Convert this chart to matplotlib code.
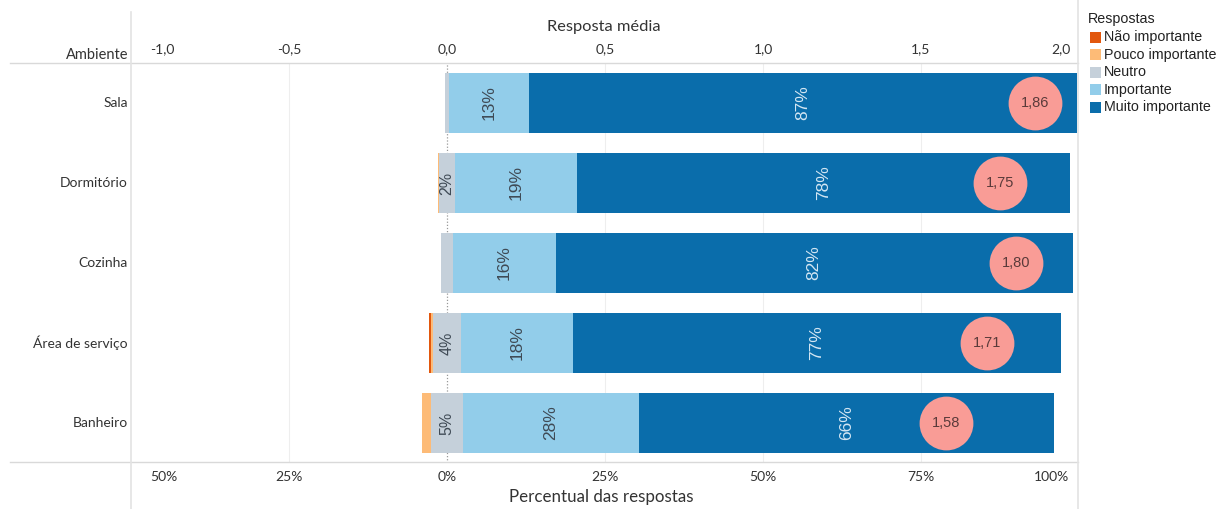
import numpy as np
import matplotlib.pyplot as plt
import matplotlib.transforms as mtransforms
from matplotlib.lines import Line2D
from matplotlib.patches import Rectangle

# ── DATA (% of answers per room) ─────────────────────────────────────────────
ambientes = ["Sala", "Dormitório", "Cozinha", "Área de serviço", "Banheiro"]
respostas = ["Não importante", "Pouco importante", "Neutro", "Importante", "Muito importante"]
nao_importante   = [0.0, 0.0, 0.0, 0.4, 0.0]
pouco_importante = [0.0, 0.3, 0.0, 0.3, 1.4]
neutro           = [0.6, 2.4, 2.0, 4.4, 5.1]
importante       = [12.7, 19.4, 16.2, 17.8, 27.8]
muito_importante = [86.7, 77.9, 81.8, 77.1, 65.7]
resposta_media   = [1.86, 1.75, 1.80, 1.71, 1.58]

pct_ticks   = [-50, -25, 0, 25, 50, 75, 100]
media_ticks = [-1.0, -0.5, 0.0, 0.5, 1.0, 1.5, 2.0]

# ── PALETTE ──────────────────────────────────────────────────────────────────
C_NAO    = "#e2570d"
C_POUCO  = "#fdbb77"
C_NEUTRO = "#c5d0da"
C_IMP    = "#92cdea"
C_MUITO  = "#0a6dab"
C_MEDIA  = "#f99c96"
TXT      = "#333333"
LINE     = "#d9d9d9"
colors = [C_NAO, C_POUCO, C_NEUTRO, C_IMP, C_MUITO]

AX_FONT = "Lato"
LEG_FONT = "Liberation Sans"

W, H = 1225, 509
fig = plt.figure(figsize=(W / 100, H / 100), dpi=100, facecolor="white")


def fx(px):
    return px / W


def fy(py):
    return 1 - py / H


ax = fig.add_axes([fx(131), fy(463), fx(1079) - fx(131), fy(63) - fy(463)])
ax.set_xlim(-50, 100)
ax.set_ylim(4.5, -0.5)

y = np.arange(len(ambientes))
nao = np.array(nao_importante)
pouco = np.array(pouco_importante)
neu = np.array(neutro)
imp = np.array(importante)
muito = np.array(muito_importante)

# diverging layout: neutral split around zero
start = -(nao + pouco + neu / 2)
segments = [nao, pouco, neu, imp, muito]
left = start.copy()
lefts = []
for seg, col in zip(segments, colors):
    ax.barh(y, seg, left=left, height=0.74, color=col, zorder=2, linewidth=0)
    lefts.append(left.copy())
    left = left + seg

# segment labels
LBL = dict(rotation=90, ha="center", va="center", family=LEG_FONT, zorder=3)
for i in y:
    if neu[i] >= 2.2:
        ax.text(lefts[2][i] + neu[i] / 2, i, f"{neu[i]:.0f}%", color="#3f4a55",
                fontsize=11.5, **LBL)
    ax.text(lefts[3][i] + imp[i] / 2, i, f"{imp[i]:.0f}%", color="#3f4a55",
            fontsize=12.5, **LBL)
    ax.text(lefts[4][i] + muito[i] / 2, i, f"{muito[i]:.0f}%", color="#d3e6f3",
            fontsize=12.5, **LBL)

# mean answer circles (1 unit of mean = 50 % on the shared axis)
media = np.array(resposta_media)
ax.scatter(media * 50, y, s=1500, color=C_MEDIA, zorder=4, linewidths=0)
for i in y:
    ax.text(media[i] * 50, i, f"{media[i]:.2f}".replace(".", ","),
            ha="center", va="center", fontsize=10.5, color="#5a3a3a",
            family=LEG_FONT, zorder=5)

# grid + zero line
for g in [-25, 25, 50, 75]:
    ax.axvline(g, color="#eeeeee", linewidth=0.8, zorder=0)
ax.axvline(0, color="#999999", linewidth=0.9, linestyle=(0, (1, 1.5)), zorder=1)

for s in ax.spines.values():
    s.set_visible(False)
ax.set_yticks([])

# bottom axis: percentage
ax.set_xticks(pct_ticks)
ax.set_xticklabels([f"{abs(t)}%" for t in pct_ticks])
ax.tick_params(axis="x", length=0, pad=6, labelsize=10, labelcolor=TXT)
for lab in ax.get_xticklabels():
    lab.set_family(AX_FONT)

# top axis: mean answer
sec = ax.secondary_xaxis("top", functions=(lambda v: v / 50, lambda v: v * 50))
sec.set_xticks(media_ticks)
sec.set_xticklabels([f"{t:.1f}".replace(".", ",") for t in media_ticks])
sec.tick_params(axis="x", length=0, pad=6, labelsize=10, labelcolor=TXT)
for s in sec.spines.values():
    s.set_visible(False)
for lab in sec.get_xticklabels():
    lab.set_family(AX_FONT)

# pull the edge labels inside the plot area
def shift(lab, dx, ha):
    lab.set_ha(ha)
    lab.set_transform(lab.get_transform() +
                      mtransforms.ScaledTranslation(dx / 100, 0, fig.dpi_scale_trans))

bl = ax.get_xticklabels()
tl = sec.get_xticklabels()
shift(bl[0], 19, "left")
shift(bl[-1], -10, "right")
shift(tl[0], 19, "left")
shift(tl[-1], -8, "right")

# titles and row headers
fig.text(fx(604), fy(27), "Resposta média", ha="center", va="center",
         fontsize=11.8, color=TXT, family=AX_FONT)
fig.text(fx(601), fy(497), "Percentual das respostas", ha="center", va="center",
         fontsize=12.2, color=TXT, family=AX_FONT)
fig.text(fx(128), fy(55), "Ambiente", ha="right", va="center",
         fontsize=10.5, color=TXT, family=AX_FONT)
for i, name in enumerate(ambientes):
    fig.text(fx(128), fy(103 + 80 * i), name, ha="right", va="center",
             fontsize=10, color=TXT, family=AX_FONT)

# frame lines
fig.add_artist(Line2D([fx(10), fx(1078)], [fy(63), fy(63)], color=LINE, lw=1))
fig.add_artist(Line2D([fx(10), fx(1078)], [fy(462), fy(462)], color=LINE, lw=1))
fig.add_artist(Line2D([fx(131), fx(131)], [fy(12), fy(509)], color="#e3e3e3", lw=1.2))
fig.add_artist(Line2D([fx(1078), fx(1078)], [fy(0), fy(509)], color="#e3e3e3", lw=1.2))

# legend
fig.text(fx(1088), fy(19), "Respostas", ha="left", va="center",
         fontsize=10.3, color="#222222", family=LEG_FONT)
for k, (lab, col) in enumerate(zip(respostas, colors)):
    yc = 37 + 17.6 * k
    fig.add_artist(Rectangle((fx(1090), fy(yc + 5.5)), fx(11), 11 / H,
                             transform=fig.transFigure, color=col, lw=0))
    fig.text(fx(1104), fy(yc), lab, ha="left", va="center",
             fontsize=10.3, color="#222222", family=LEG_FONT)

fig.savefig("out.png", dpi=100, facecolor="white")
